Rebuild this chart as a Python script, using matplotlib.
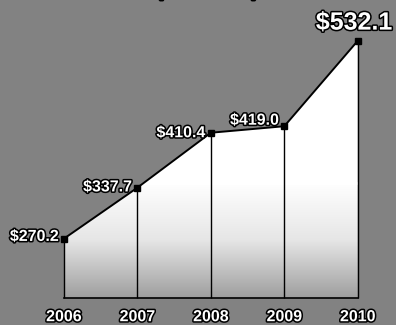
import numpy as np
import matplotlib.pyplot as plt
import matplotlib.patheffects as pe
from matplotlib.patches import Polygon
from matplotlib.colors import LinearSegmentedColormap

years = [2006, 2007, 2008, 2009, 2010]
values = [270.2, 337.7, 410.4, 419.0, 532.1]
labels = ["$270.2", "$337.7", "$410.4", "$419.0", "$532.1"]
label_dy = [3, 1, 0, 8, 24]  # small nudges above each point
base = 192.0

plt.rcParams['font.family'] = ['Liberation Sans', 'DejaVu Sans']

fig = plt.figure(figsize=(3.96, 3.25), dpi=100)
fig.patch.set_facecolor('#828282')
ax = fig.add_axes([0, 0, 1, 1])
ax.set_facecolor('#828282')
ax.set_xlim(2005.13, 2010.52)
ax.set_ylim(156, 586)
ax.axis('off')

# white-to-gray gradient under the line
grad = np.linspace(0, 1, 256).reshape(-1, 1)
cmap = LinearSegmentedColormap.from_list('g', ['#9e9e9e', '#e6e6e6', '#ffffff'])
img = ax.imshow(grad, extent=[years[0], years[-1], base, 345], origin='lower',
                aspect='auto', cmap=cmap, zorder=1)
top = ax.fill_between([years[0], years[-1]], 344, 600, color='white', zorder=1)
poly = Polygon(list(zip(years, values)) + [(years[-1], base), (years[0], base)],
               closed=True, transform=ax.transData)
img.set_clip_path(poly)
top.set_clip_path(poly)

ax.plot(years, values, color='black', lw=1.4, zorder=3)
ax.plot([years[0], years[-1]], [base, base], color='black', lw=1.2, zorder=3)
ax.vlines(years, base, values, color='black', lw=1.0, zorder=3)
ax.plot(years, values, 's', color='black', ms=4.5, zorder=4)

stroke = [pe.withStroke(linewidth=2.2, foreground='black')]
for i, (x, v, lab) in enumerate(zip(years, values, labels)):
    big = i == len(years) - 1
    ax.text(x + (0.47 if big else -0.07), v + label_dy[i], lab,
            ha='right', va='center', color='white', fontweight='bold',
            fontsize=18 if big else 11.5, path_effects=stroke, zorder=5)
    ax.text(x, 167, str(x), ha='center', va='center', color='white',
            fontweight='bold', fontsize=11.5, path_effects=stroke, zorder=5)

ax.text(2007.95, 597, "(in millions)", ha='center', va='center', color='white',
        fontweight='bold', fontsize=13, path_effects=stroke, zorder=5)

fig.savefig('out.png', dpi=100)
